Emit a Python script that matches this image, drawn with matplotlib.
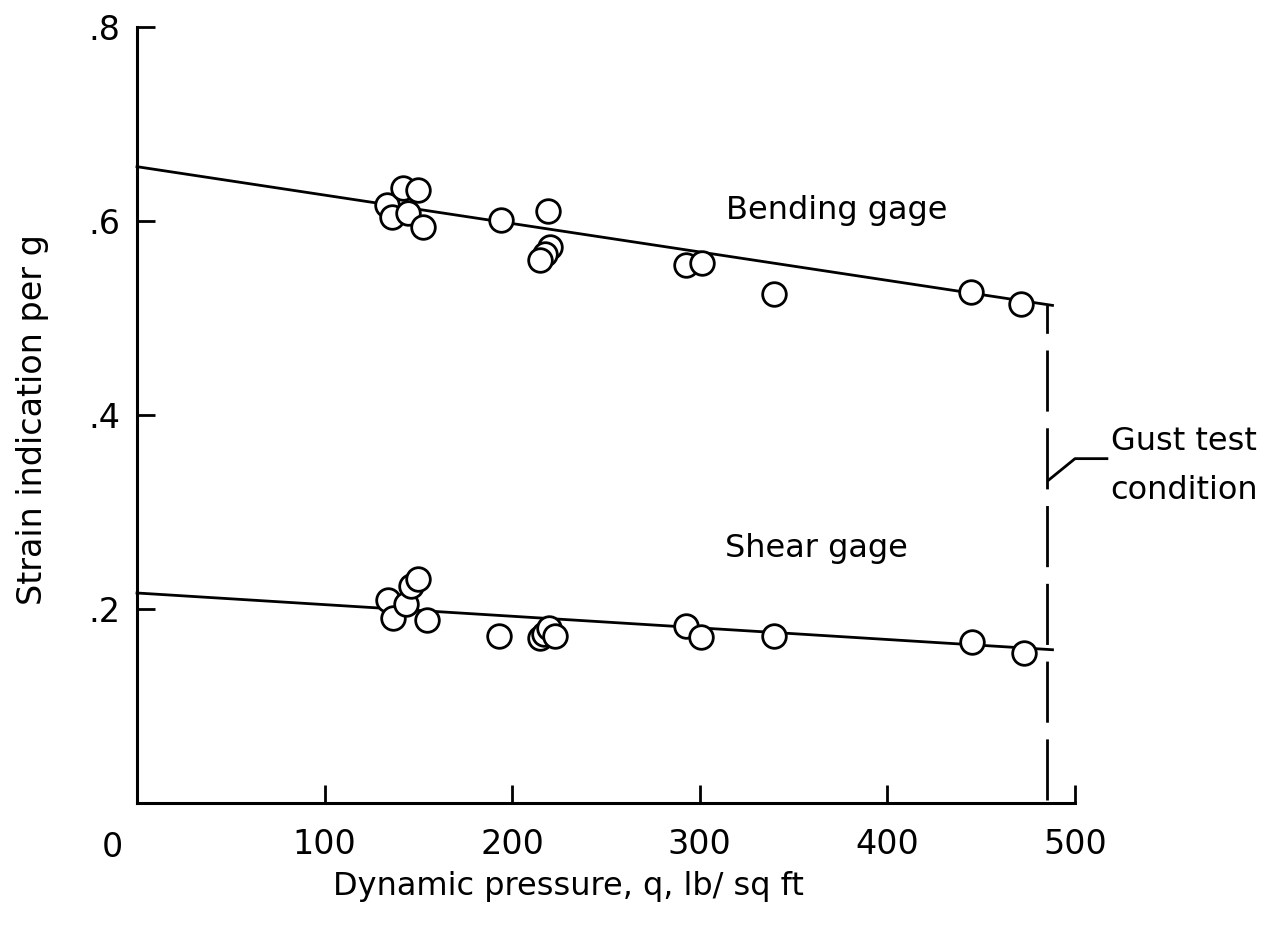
import matplotlib
matplotlib.use("Agg")
import matplotlib.pyplot as plt
import numpy as np

# Bending gage data (q, strain per g)
bend_q = [133, 136, 142, 150, 144.5, 152.5, 194, 219, 220, 217.5, 215, 292.5, 301, 339.5, 444.5, 471]
bend_s = [0.616, 0.604, 0.634, 0.632, 0.608, 0.594, 0.601, 0.610, 0.573, 0.566, 0.560, 0.555, 0.557, 0.525, 0.527, 0.514]

# Shear gage data
shear_q = [134, 136.5, 143.5, 146, 150, 154.5, 193, 215, 217, 219.5, 223, 292.5, 300.5, 339.5, 445, 473]
shear_s = [0.209, 0.191, 0.205, 0.224, 0.231, 0.189, 0.172, 0.170, 0.174, 0.180, 0.172, 0.182, 0.171, 0.172, 0.166, 0.155]

# Faired lines (endpoints)
bend_line_q = [0, 488]
bend_line_s = [0.656, 0.513]
shear_line_q = [0, 488]
shear_line_s = [0.2165, 0.158]

gust_q = 485

xticks = [100, 200, 300, 400, 500]
yticks = [0.2, 0.4, 0.6, 0.8]
ytick_labels = [".2", ".4", ".6", ".8"]

plt.rcParams['font.family'] = ['DejaVu Sans']

fig = plt.figure(figsize=(12.83, 9.26), dpi=100)
ax = fig.add_axes([137/1283, 1-803/926, (1075-137)/1283, (803-27)/926])

ax.plot(bend_line_q, bend_line_s, color='black', lw=2.0, clip_on=False, zorder=2)
ax.plot(shear_line_q, shear_line_s, color='black', lw=2.0, clip_on=False, zorder=2)

ax.plot(bend_q, bend_s, 'o', ms=17, mfc='white', mec='black', mew=2.0, zorder=3, clip_on=False)
ax.plot(shear_q, shear_s, 'o', ms=17, mfc='white', mec='black', mew=2.0, zorder=3, clip_on=False)

ax.plot([gust_q, gust_q], [0.003, bend_line_s[1]], color='black', lw=2.0,
        dashes=(22, 6), clip_on=False, zorder=2)

ax.set_xlim(0, 500)
ax.set_ylim(0, 0.8)
ax.spines['top'].set_visible(False)
ax.spines['right'].set_visible(False)
for s in ['left', 'bottom']:
    ax.spines[s].set_linewidth(2.2)

ax.set_xticks(xticks)
ax.set_xticklabels([str(t) for t in xticks])
ax.set_yticks(yticks)
ax.set_yticklabels(ytick_labels)
ax.tick_params(direction='in', length=13, width=2.0, labelsize=24)
ax.tick_params(axis='x', pad=18)
ax.tick_params(axis='y', pad=12)

# origin label
ax.text(-13, -0.046, "0", fontsize=24, ha='center', va='center', clip_on=False)

ax.set_xlabel("Dynamic pressure, q, lb/ sq ft", fontsize=23)
ax.xaxis.set_label_coords((568-137)/938, -0.087)
ax.set_ylabel("Strain indication per g", fontsize=24)
ax.yaxis.set_label_coords(-0.094, (803-420)/776)

ax.text(373, 0.611, "Bending gage", fontsize=23, ha='center', va='center')
ax.text(362, 0.262, "Shear gage", fontsize=23, ha='center', va='center')

# Gust test condition leader and text
ax.plot([gust_q + 1, gust_q + 15, gust_q + 32], [0.333, 0.355, 0.355],
        color='black', lw=2.0, clip_on=False)
ax.text(gust_q + 34, 0.373, "Gust test", fontsize=23, ha='left', va='center', clip_on=False)
ax.text(gust_q + 34, 0.322, "condition", fontsize=23, ha='left', va='center', clip_on=False)

fig.savefig("out.png", dpi=100, facecolor='white')
